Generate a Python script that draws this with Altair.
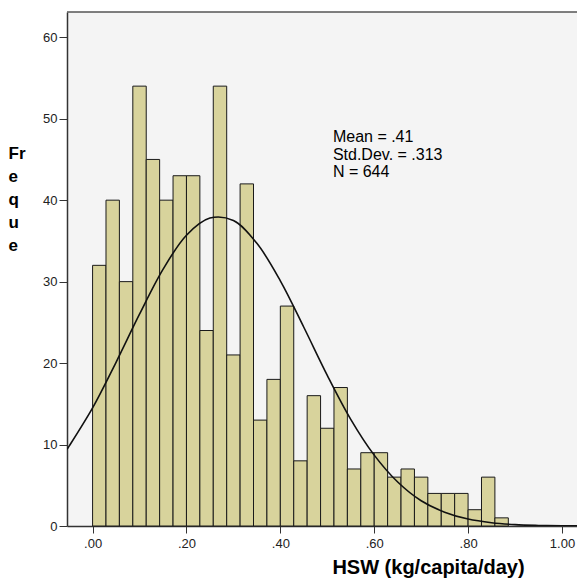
import altair as alt
import pandas as pd

# Histogram counts (31 bins starting at 0, bin width ~0.02857)
counts = [32, 40, 30, 54, 45, 40, 43, 43, 24, 54, 21, 42, 13, 18, 27, 8,
          16, 12, 17, 7, 9, 9, 6, 7, 6, 4, 4, 4, 2, 6, 1]
bin_width = 0.02857

# Normal curve
curve_x = [-0.0545, -0.05, 0.00, 0.05, 0.10, 0.15, 0.20, 0.25, 0.30, 0.35, 0.40,
           0.45, 0.50, 0.55, 0.60, 0.65, 0.70, 0.75, 0.80, 0.85, 0.90, 0.95, 1.00, 1.032]
curve_y = [9.4, 9.8, 14.5, 20.1, 26.0, 31.5, 35.7, 37.8, 37.5, 34.7, 30.1,
           24.4, 18.5, 13.1, 8.7, 5.4, 3.1, 1.7, 0.85, 0.4, 0.17, 0.07, 0.02, 0.01]

stats_lines = ["Mean = .41", "Std.Dev. = .313", "N = 644"]
x_ticks = [0.0, 0.2, 0.4, 0.6, 0.8, 1.0]
y_ticks = [0, 10, 20, 30, 40, 50, 60]

bars = pd.DataFrame({
    "start": [i * bin_width for i in range(len(counts))],
    "end": [(i + 1) * bin_width for i in range(len(counts))],
    "count": counts,
})
curve = pd.DataFrame({"x": curve_x, "y": curve_y})
stats = pd.DataFrame({"x": [0.512] * 3, "y": [47.8, 45.6, 43.4], "t": stats_lines})

xdom = [-0.0545, 1.032]
ydom = [0, 63.1]

xscale = alt.Scale(domain=xdom, nice=False, zero=False)
yscale = alt.Scale(domain=ydom, nice=False)

xaxis = alt.Axis(values=x_ticks, labelExpr="datum.value == 1 ? '1.00' : replace(format(datum.value, '.2f'), '0.', '.')",
                 title="HSW (kg/capita/day)", titleFontSize=20, titleFontWeight="bold",
                 titleFont="Liberation Sans", titleColor="#000000",
                 titleX=361, titleY=47, titleBaseline="alphabetic", titleAnchor="start", titleAlign="center",
                 labelFont="Liberation Sans", labelFontSize=13, labelColor="#222222",
                 labelPadding=4, tickSize=7, tickColor="#333333", domainColor="#333333",
                 domainWidth=1.5, grid=False, labelFlush=False)
yaxis = alt.Axis(values=y_ticks, format="d",
                 title=["Fr", "e", "q", "u", "e"], titleAngle=0, titleFontSize=17,
                 titleFontWeight="bold", titleFont="Liberation Sans", titleColor="#000000",
                 titleX=-59, titleY=133, titleAlign="left", titleBaseline="top",
                 titleLineHeight=23, titleAnchor="start",
                 labelFont="Liberation Sans", labelFontSize=13, labelColor="#222222",
                 labelPadding=2, tickSize=8, tickColor="#333333", domainColor="#333333",
                 domainWidth=1.5, grid=False)

bar_layer = alt.Chart(bars).mark_rect(
    fill="#D8D39C", stroke="#1a1a1a", strokeWidth=1
).encode(
    x=alt.X("start:Q", scale=xscale, axis=xaxis),
    x2="end:Q",
    y=alt.Y("count:Q", scale=yscale, axis=yaxis),
    y2=alt.datum(0),
)

line_layer = alt.Chart(curve).mark_line(
    color="#111111", strokeWidth=1.6, interpolate="catmull-rom", clip=True
).encode(x=alt.X("x:Q", scale=xscale), y=alt.Y("y:Q", scale=yscale))

text_layer = alt.Chart(stats).mark_text(
    align="left", baseline="middle", font="Liberation Sans", fontSize=16, color="#000000"
).encode(x=alt.X("x:Q", scale=xscale), y=alt.Y("y:Q", scale=yscale), text="t:N")

top_border = alt.Chart(pd.DataFrame({"x": [xdom[0]], "x2": [xdom[1]]})).mark_rule(
    color="#555555", strokeWidth=1.5
).encode(x=alt.X("x:Q", scale=xscale), x2="x2:Q", y=alt.value(0))

chart = alt.layer(bar_layer, line_layer, text_layer, top_border).properties(
    width=510, height=514,
    padding={"left": 59, "top": 4, "right": 0, "bottom": 52},
    autosize=alt.AutoSizeParams(type="none"),
    background="#ffffff",
).configure_view(
    fill="#F4F4F4", stroke=None
)

chart.save("out.html", embed_options={"renderer": "svg", "actions": False})
